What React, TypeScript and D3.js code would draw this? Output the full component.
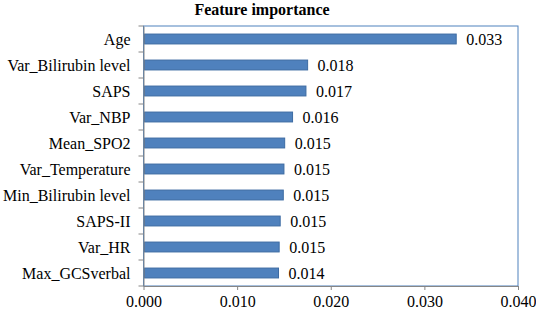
import React, {useEffect, useRef} from 'react';
import * as d3 from "d3";

const features = ["Age", "Var_Bilirubin level", "SAPS", "Var_NBP", "Mean_SPO2", "Var_Temperature", "Min_Bilirubin level", "SAPS-II", "Var_HR", "Max_GCSverbal"];
const importance = [0.0334, 0.01753, 0.01735, 0.01592, 0.01508, 0.0150, 0.01493, 0.0146, 0.01449, 0.01442];
const valueLabels = ["0.033", "0.018", "0.017", "0.016", "0.015", "0.015", "0.015", "0.015", "0.015", "0.014"];
const xTicks = [0, 0.01, 0.02, 0.03, 0.04];

export default function App() {
  const svgRef = useRef(null);
  const width = 536;
  const height = 312;

  useEffect(() => {
    const margin = { top: 26, right: 18, bottom: 26, left: 143.5 };
    const svg = d3.select(svgRef.current);
    svg.selectAll("*").remove();
    const font = "'Liberation Serif', 'Times New Roman', serif";

    const xScale = d3.scaleLinear()
      .domain([0, 0.04])
      .range([margin.left, width - margin.right]);
    const yScale = d3.scaleBand()
      .domain(features)
      .range([margin.top, height - margin.bottom])
      .paddingInner(0.62)
      .paddingOuter(0.31);

    // title
    svg.append("text")
      .attr("x", 262)
      .attr("y", 15)
      .attr("text-anchor", "middle")
      .style("font-family", font)
      .style("font-weight", "bold")
      .style("font-size", "16px")
      .text("Feature importance");

    // plot area border (blue top/right)
    svg.append("rect")
      .attr("x", margin.left)
      .attr("y", margin.top)
      .attr("width", width - margin.right - margin.left)
      .attr("height", height - margin.bottom - margin.top)
      .attr("fill", "none")
      .attr("stroke", "#4f81bd")
      .attr("stroke-width", 1);

    // bars
    svg.selectAll(".bar")
      .data(features)
      .enter()
      .append("rect")
      .attr("class", "bar")
      .attr("x", xScale(0) + 1)
      .attr("y", (d) => yScale(d))
      .attr("width", (d, i) => xScale(importance[i]) - xScale(0) - 1)
      .attr("height", yScale.bandwidth())
      .attr("fill", "#4f81bd")
      .attr("stroke", "#3d6ba3")
      .attr("stroke-width", 1);

    // value labels
    svg.selectAll(".val")
      .data(features)
      .enter()
      .append("text")
      .attr("class", "val")
      .attr("x", (d, i) => xScale(importance[i]) + 10)
      .attr("y", (d) => yScale(d) + yScale.bandwidth() / 2)
      .attr("dy", "0.4em")
      .style("font-family", font)
      .style("font-size", "16px")
      .text((d, i) => valueLabels[i]);

    // y axis
    const yAxis = svg.append("g")
      .attr("transform", `translate(${margin.left},0)`)
      .call(d3.axisLeft(yScale).tickSize(0).tickPadding(13));
    yAxis.select(".domain").attr("stroke", "#868686");
    yAxis.selectAll("text")
      .attr("dy", "0.4em")
      .style("font-family", font)
      .style("font-size", "16px")
      .attr("fill", "#000");

    // category tick marks at band boundaries
    const step = yScale.step();
    const bounds = d3.range(features.length + 1).map((i) => margin.top + i * step);
    svg.selectAll(".ytick")
      .data(bounds)
      .enter()
      .append("line")
      .attr("x1", margin.left - 5)
      .attr("x2", margin.left)
      .attr("y1", (d) => d)
      .attr("y2", (d) => d)
      .attr("stroke", "#868686");

    // x axis
    const xAxis = svg.append("g")
      .attr("transform", `translate(0,${height - margin.bottom})`)
      .call(d3.axisBottom(xScale).tickValues(xTicks).tickSize(4).tickSizeOuter(0).tickPadding(6).tickFormat(d3.format(".3f")));
    xAxis.select(".domain").attr("stroke", "#868686");
    xAxis.selectAll(".tick line").attr("stroke", "#868686");
    xAxis.selectAll("text")
      .style("font-family", font)
      .style("font-size", "16px")
      .attr("fill", "#000");
  }, []);

  return (
    <svg ref={svgRef} width={width} height={height} style={{position: "absolute", left: 0, top: 0, background: "#fff"}}/>
  );
}
